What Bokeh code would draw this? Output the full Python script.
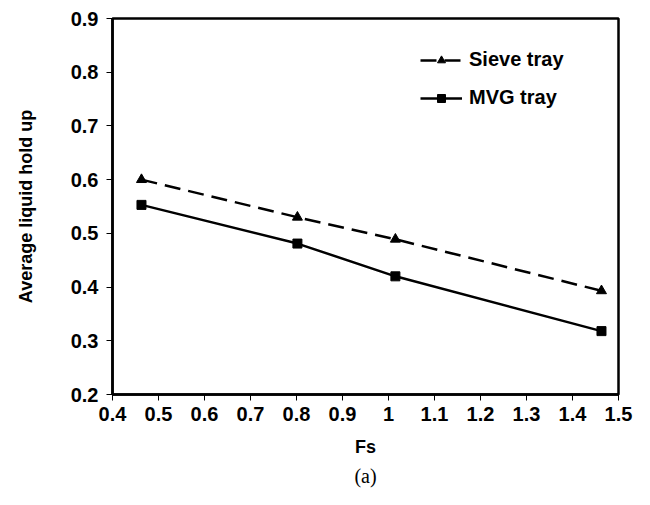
from bokeh.plotting import figure
from bokeh.models import Range1d, FixedTicker, Legend, LegendItem, Title
from bokeh.embed import file_html
from bokeh.resources import INLINE

# Data
fs = [0.463, 0.802, 1.015, 1.463]
sieve = [0.600, 0.530, 0.489, 0.393]
mvg = [0.553, 0.481, 0.420, 0.318]

x_ticks = [0.4, 0.5, 0.6, 0.7, 0.8, 0.9, 1.0, 1.1, 1.2, 1.3, 1.4, 1.5]
x_tick_labels = ["0.4", "0.5", "0.6", "0.7", "0.8", "0.9", "1", "1.1", "1.2", "1.3", "1.4", "1.5"]
y_ticks = [0.2, 0.3, 0.4, 0.5, 0.6, 0.7, 0.8, 0.9]
y_tick_labels = ["0.2", "0.3", "0.4", "0.5", "0.6", "0.7", "0.8", "0.9"]

FONT = "Liberation Sans"

p = figure(width=634, height=489, output_backend="svg", toolbar_location=None,
           x_range=Range1d(0.4, 1.5), y_range=Range1d(0.2, 0.9),
           min_border_left=112, min_border_right=16, min_border_top=18, min_border_bottom=95)

p.background_fill_color = "white"
p.border_fill_color = "white"
p.outline_line_color = "black"
p.outline_line_width = 2.5
p.xgrid.visible = False
p.ygrid.visible = False

for ax, ticks, labels in ((p.xaxis[0], x_ticks, x_tick_labels), (p.yaxis[0], y_ticks, y_tick_labels)):
    ax.ticker = FixedTicker(ticks=ticks)
    ax.major_label_overrides = {t: l for t, l in zip(ticks, labels)}
    ax.minor_tick_line_color = None
    ax.major_tick_in = 0
    ax.major_tick_out = 6
    ax.major_tick_line_color = "black"
    ax.major_tick_line_width = 1
    ax.axis_line_color = "black"
    ax.axis_line_width = 2.5
    ax.major_label_text_font = FONT
    ax.major_label_text_font_style = "bold"
    ax.major_label_text_font_size = "20px"
    ax.major_label_text_color = "black"
    ax.axis_label_text_font = FONT
    ax.axis_label_text_font_style = "bold"
    ax.axis_label_text_font_size = "18px"
    ax.axis_label_text_color = "black"

p.xaxis.axis_label = "Fs"
p.yaxis.axis_label = "Average liquid hold up"
p.xaxis.major_label_standoff = 6
p.yaxis.major_label_standoff = 8
p.xaxis.axis_label_standoff = 13
p.yaxis.axis_label_standoff = 32

r1 = p.line(fs, sieve, line_color="black", line_width=2.5, line_dash="16 8")
m1 = p.scatter(fs, sieve, marker="triangle", size=10, fill_color="black", line_color="black")
r2 = p.line(fs, mvg, line_color="black", line_width=2.5)
m2 = p.scatter(fs, mvg, marker="square", size=9, fill_color="black", line_color="black")

legend = Legend(items=[LegendItem(label="Sieve tray", renderers=[r1, m1]),
                       LegendItem(label="MVG tray", renderers=[r2, m2])],
                location=(308, 285))
legend.background_fill_alpha = 0
legend.border_line_color = None
legend.padding = 0
legend.margin = 0
legend.spacing = 15
legend.glyph_width = 42
legend.glyph_height = 20
legend.label_height = 20
legend.label_standoff = 7
legend.label_text_font = FONT
legend.label_text_font_style = "bold"
legend.label_text_font_size = "20px"
legend.label_text_color = "black"
p.add_layout(legend, "center")

cap = Title(text="(a)", align="center", text_font="Liberation Serif", text_font_size="20px",
            text_font_style="normal", text_color="black", offset=0, standoff=6)
p.add_layout(cap, "below")

open("out.html", "w").write(file_html(p, INLINE))
